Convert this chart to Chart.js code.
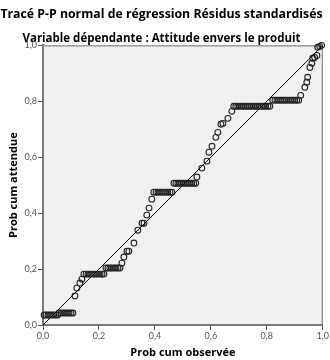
<!DOCTYPE html>
<html>
<head>
<meta charset="utf-8">
<script src="https://cdn.jsdelivr.net/npm/chart.js@4.4.1/dist/chart.umd.min.js"></script>
<style>
  html, body { margin: 0; padding: 0; background: #fff; }
</style>
</head>
<body>
<canvas id="ppChart" width="330" height="360"></canvas>
<script>
const titleText = 'Tracé P-P normal de régression Résidus standardisés';
const subtitleText = 'Variable dépendante : Attitude envers le produit';
const xAxisTitle = 'Prob cum observée';
const yAxisTitle = 'Prob cum attendue';
const tickLabels = ['0,0', '0,2', '0,4', '0,6', '0,8', '1,0'];

const obsProb = [
  0.004, 0.011, 0.018, 0.025, 0.032, 0.039, 0.046, 0.053,
  0.057, 0.064, 0.071, 0.079, 0.086, 0.093, 0.100, 0.107,
  0.114, 0.121, 0.132, 0.139,
  0.146, 0.154, 0.161, 0.168, 0.175, 0.182, 0.189, 0.196, 0.204, 0.211, 0.218,
  0.225, 0.232, 0.239, 0.246, 0.254, 0.261, 0.268, 0.275,
  0.282, 0.289, 0.300, 0.307, 0.325, 0.339, 0.354, 0.361, 0.371, 0.379, 0.389,
  0.396, 0.404, 0.411, 0.418, 0.425, 0.432, 0.439, 0.446, 0.454, 0.461,
  0.468, 0.475, 0.482, 0.489, 0.496, 0.504, 0.511, 0.518, 0.525, 0.532, 0.539, 0.546,
  0.550, 0.568, 0.586, 0.593, 0.604, 0.618, 0.625, 0.636, 0.643, 0.661, 0.675,
  0.682, 0.689, 0.696, 0.704, 0.711, 0.718, 0.725, 0.732, 0.739, 0.746,
  0.754, 0.761, 0.768, 0.775, 0.782, 0.789, 0.796, 0.804, 0.811,
  0.821, 0.829, 0.836, 0.843, 0.850, 0.857, 0.864, 0.871, 0.879, 0.886, 0.893, 0.900, 0.907, 0.914,
  0.921, 0.936, 0.943, 0.946, 0.954, 0.961, 0.964, 0.971, 0.979, 0.982, 0.989, 0.996
];
const expProb = [
  0.036, 0.036, 0.036, 0.036, 0.036, 0.036, 0.036, 0.036,
  0.043, 0.043, 0.043, 0.043, 0.043, 0.043, 0.043, 0.043,
  0.104, 0.132, 0.150, 0.164,
  0.182, 0.182, 0.182, 0.182, 0.182, 0.182, 0.182, 0.182, 0.182, 0.182, 0.182,
  0.204, 0.204, 0.204, 0.204, 0.204, 0.204, 0.204, 0.204,
  0.221, 0.243, 0.264, 0.264, 0.293, 0.339, 0.364, 0.364, 0.393, 0.418, 0.450,
  0.475, 0.475, 0.475, 0.475, 0.475, 0.475, 0.475, 0.475, 0.475, 0.475,
  0.507, 0.507, 0.507, 0.507, 0.507, 0.507, 0.507, 0.507, 0.507, 0.507, 0.507, 0.507,
  0.529, 0.561, 0.586, 0.618, 0.639, 0.671, 0.689, 0.718, 0.721, 0.739, 0.764,
  0.782, 0.782, 0.782, 0.782, 0.782, 0.782, 0.782, 0.782, 0.782, 0.782,
  0.782, 0.782, 0.782, 0.782, 0.782, 0.782, 0.782, 0.782, 0.782,
  0.804, 0.804, 0.804, 0.804, 0.804, 0.804, 0.804, 0.804, 0.804, 0.804, 0.804, 0.804, 0.804, 0.804,
  0.821, 0.850, 0.868, 0.886, 0.921, 0.936, 0.954, 0.957, 0.964, 0.993, 0.996, 1.000
];
const refLine = [0, 1];

const plotBg = {
  id: 'plotBg',
  beforeDraw(chart) {
    const { ctx, chartArea: a } = chart;
    ctx.save();
    ctx.fillStyle = '#f0f0f0';
    ctx.fillRect(a.left, a.top, a.right - a.left, a.bottom - a.top);
    ctx.strokeStyle = '#707070';
    ctx.lineWidth = 1;
    ctx.beginPath();
    ctx.moveTo(a.left, a.top + 0.5);
    ctx.lineTo(a.right - 0.5, a.top + 0.5);
    ctx.lineTo(a.right - 0.5, a.bottom);
    ctx.stroke();
    ctx.restore();
  }
};

const tickFont = { family: 'Lato, "DejaVu Sans", sans-serif', size: 9 };
const boldFont = { family: '"Open Sans", sans-serif', size: 11, weight: 'bold' };

function axisOpts(titleText, titlePadding) {
  return {
    type: 'linear',
    min: 0,
    max: 1,
    border: { display: true, color: '#7a7a7a', width: 2 },
    grid: { drawOnChartArea: false, drawTicks: true, tickLength: 5, tickColor: '#555' },
    ticks: {
      stepSize: 0.2,
      font: tickFont,
      color: '#555',
      padding: 1,
      callback: (v, i) => tickLabels[i]
    },
    title: { display: true, text: titleText, font: boldFont, color: '#000', padding: titlePadding }
  };
}

const xScale = axisOpts(xAxisTitle, { top: 0, bottom: 1 });
xScale.afterFit = (s) => { s.height = 35; };
const yScale = axisOpts(yAxisTitle, { top: 7.4, bottom: 0 });
yScale.afterFit = (s) => { s.width = 43; };

new Chart(document.getElementById('ppChart'), {
  type: 'scatter',
  data: {
    datasets: [
      {
        data: obsProb.map((x, i) => ({ x: x, y: expProb[i] })),
        pointRadius: 2.9,
        pointBorderWidth: 1.1,
        pointBorderColor: '#262626',
        pointBackgroundColor: 'rgba(0,0,0,0)',
        clip: false,
        order: 1
      },
      {
        type: 'line',
        data: refLine.map(v => ({ x: v, y: v })),
        borderColor: '#000',
        borderWidth: 1,
        pointRadius: 0,
        order: 0
      }
    ]
  },
  options: {
    responsive: false,
    animation: false,
    layout: { padding: { left: 0, right: 7, top: 0, bottom: 0 } },
    plugins: {
      legend: { display: false },
      tooltip: { enabled: false },
      title: {
        display: true,
        text: titleText,
        color: '#000',
        font: { family: '"Open Sans", sans-serif', size: 12.3, weight: 'bold', lineHeight: 1.2 },
        padding: { top: 7, bottom: 2 }
      },
      subtitle: {
        display: true,
        text: subtitleText,
        color: '#000',
        font: { family: '"Open Sans", sans-serif', size: 11.5, weight: 'bold', lineHeight: 1.2 },
        padding: { top: 7.8, bottom: 0 }
      }
    },
    scales: { x: xScale, y: yScale }
  },
  plugins: [plotBg]
});
</script>
</body>
</html>
